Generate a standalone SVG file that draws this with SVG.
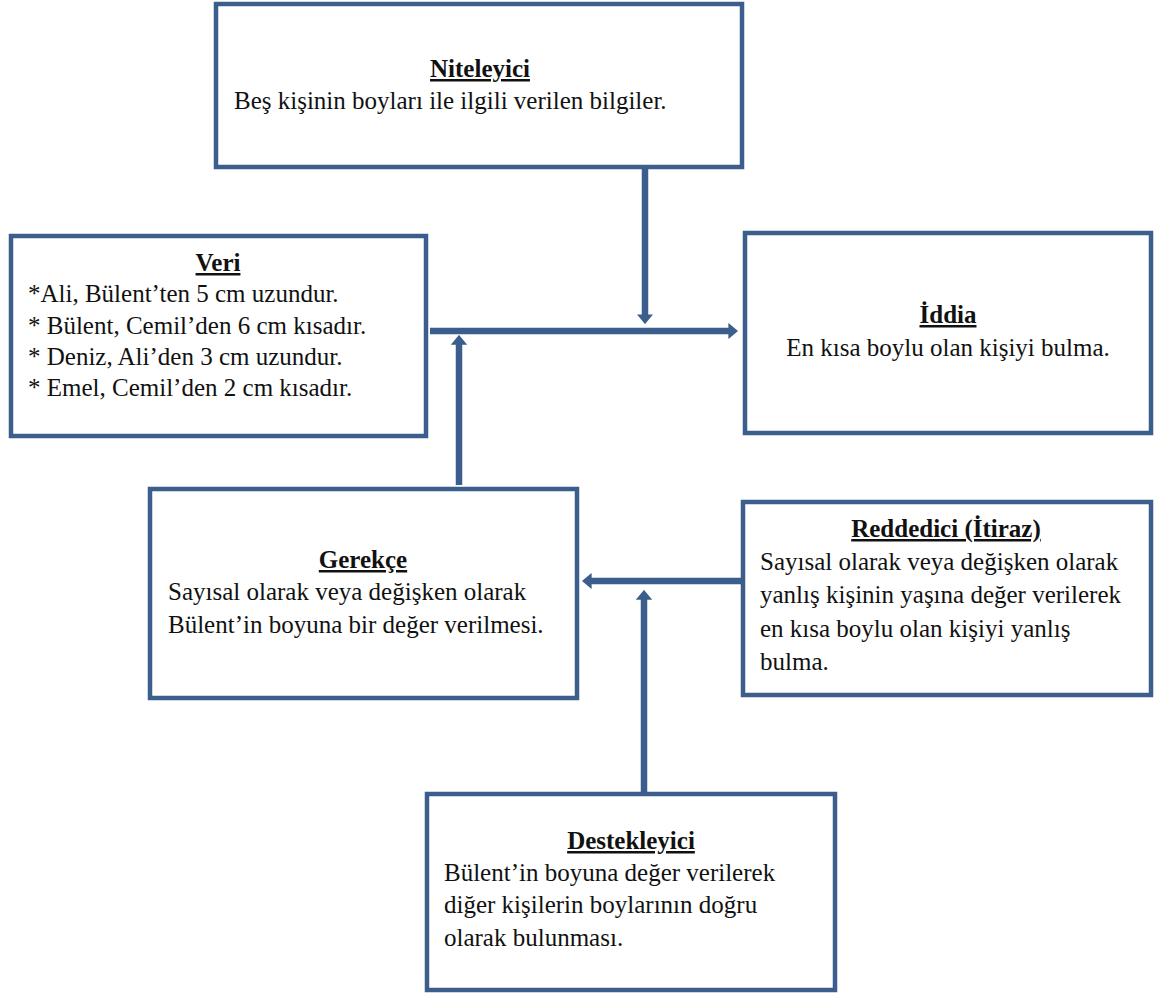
<svg xmlns="http://www.w3.org/2000/svg" width="1156" height="996" viewBox="0 0 1156 996">
  <style>
    .box { fill: #ffffff; stroke: #3b5e8c; stroke-width: 4.5; }
    .link { fill: none; stroke: #3b5e8c; stroke-width: 6.5; }
    .t { font-size: 25px; fill: #111111; }
    .title { font-weight: bold; text-decoration: underline; text-anchor: middle; }
    .mid { text-anchor: middle; }
  </style>
  <defs>
    <marker id="head" viewBox="0 0 6 10" refX="1" refY="5" markerWidth="1.5" markerHeight="2.6" orient="auto" markerUnits="strokeWidth">
      <path d="M0,0 L6,5 L0,10 z" fill="#3b5e8c"/>
    </marker>
  </defs>

  <rect width="1156" height="996" fill="#ffffff"/>

  <!-- connectors -->
  <g id="connectors">
    <line class="link" x1="645" y1="169" x2="645" y2="316" marker-end="url(#head)"/>
    <line class="link" x1="430" y1="331" x2="730" y2="331" marker-end="url(#head)"/>
    <line class="link" x1="459" y1="485" x2="459" y2="343" marker-end="url(#head)"/>
    <line class="link" x1="741" y1="581" x2="590" y2="581" marker-end="url(#head)"/>
    <line class="link" x1="644" y1="793" x2="644" y2="598" marker-end="url(#head)"/>
  </g>

  <g font-family="'Liberation Serif', 'Times New Roman', serif" class="t">
    <g id="niteleyici">
      <rect class="box" x="216" y="4" width="526" height="163"/>
      <text class="title" x="480" y="77">Niteleyici</text>
      <text x="234" y="109">Beş kişinin boyları ile ilgili verilen bilgiler.</text>
    </g>

    <g id="veri">
      <rect class="box" x="11" y="236" width="415" height="200"/>
      <text class="title" x="218" y="271">Veri</text>
      <text x="28" y="302">*Ali, Bülent’ten 5 cm uzundur.</text>
      <text x="28" y="334">* Bülent, Cemil’den 6 cm kısadır.</text>
      <text x="28" y="365">* Deniz, Ali’den 3 cm uzundur.</text>
      <text x="28" y="396">* Emel, Cemil’den 2 cm kısadır.</text>
    </g>

    <g id="iddia">
      <rect class="box" x="745" y="233" width="406" height="200"/>
      <text class="title" x="948" y="323">İddia</text>
      <text class="mid" x="948" y="356">En kısa boylu olan kişiyi bulma.</text>
    </g>

    <g id="gerekce">
      <rect class="box" x="150" y="489" width="427" height="209"/>
      <text class="title" x="363" y="568">Gerekçe</text>
      <text x="168" y="600">Sayısal olarak veya değişken olarak</text>
      <text x="168" y="633">Bülent’in boyuna bir değer verilmesi.</text>
    </g>

    <g id="reddedici">
      <rect class="box" x="743" y="502" width="408" height="193"/>
      <text class="title" x="946" y="537">Reddedici (İtiraz)</text>
      <text x="760" y="570">Sayısal olarak veya değişken olarak</text>
      <text x="760" y="603">yanlış kişinin yaşına değer verilerek</text>
      <text x="760" y="637">en kısa boylu olan kişiyi yanlış</text>
      <text x="760" y="670">bulma.</text>
    </g>

    <g id="destekleyici">
      <rect class="box" x="427" y="794" width="408" height="196"/>
      <text class="title" x="631" y="849">Destekleyici</text>
      <text x="444" y="881">Bülent’in boyuna değer verilerek</text>
      <text x="444" y="913">diğer kişilerin boylarının doğru</text>
      <text x="444" y="946">olarak bulunması.</text>
    </g>
  </g>
</svg>
